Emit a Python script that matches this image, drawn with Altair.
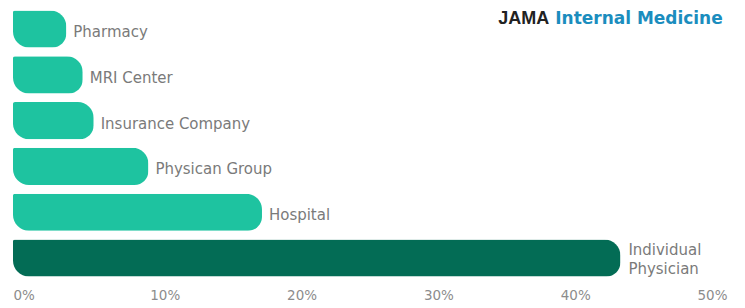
import altair as alt
import pandas as pd

categories = ["Pharmacy", "MRI Center", "Insurance Company", "Physican Group", "Hospital", "Individual\nPhysician"]
values = [3.9, 5.1, 5.9, 9.9, 18.2, 44.4]
groups = ["other", "other", "other", "other", "other", "top"]
x_ticks = [0, 10, 20, 30, 40, 50]

df = pd.DataFrame({"cat": categories, "val": values, "grp": groups})

y_enc = alt.Y("cat:N", sort=categories, axis=None,
              scale=alt.Scale(paddingInner=0.19, paddingOuter=0.05))
x_enc = alt.X("val:Q",
              scale=alt.Scale(domain=[0, 50], nice=False, zero=True),
              axis=alt.Axis(values=x_ticks, labelExpr="datum.value + '%'", title=None,
                            domain=False, ticks=False, grid=False, labelAlign="left",
                            labelPadding=10, labelFontSize=13.5, labelColor="#8c8c8c",
                            labelFont="DejaVu Sans", labelBound=False, labelFlush=False))

bars = alt.Chart(df).mark_bar(
    cornerRadiusTopLeft=2, cornerRadiusBottomLeft=16,
    cornerRadiusTopRight=16, cornerRadiusBottomRight=14
).encode(
    x=x_enc, y=y_enc,
    color=alt.Color("grp:N", scale=alt.Scale(domain=["other", "top"], range=["#1ec3a0", "#036c55"]), legend=None)
)

labels = alt.Chart(df).transform_filter(alt.datum.grp == "other").mark_text(
    align="left", baseline="middle", dx=7, dy=3, fontSize=15, font="DejaVu Sans",
    color="#7a7a7a"
).encode(x=x_enc, y=y_enc, text="cat:N")

labels_top = alt.Chart(df).transform_filter(alt.datum.grp == "top").mark_text(
    align="left", baseline="middle", dx=8, dy=-8, fontSize=15, font="DejaVu Sans",
    color="#7a7a7a", lineBreak="\n", lineHeight=19
).encode(x=x_enc, y=y_enc, text="cat:N")

brand1 = alt.Chart(pd.DataFrame({"t": ["JAMA"]})).mark_text(
    align="right", baseline="top", fontSize=18, font="Liberation Sans", fontWeight="bold", color="#222222"
).encode(x=alt.value(537), y=alt.value(2), text="t:N")
brand2 = alt.Chart(pd.DataFrame({"t": ["Internal Medicine"]})).mark_text(
    align="left", baseline="top", fontSize=17, font="DejaVu Sans", fontWeight="bold", color="#1b8dbe"
).encode(x=alt.value(543), y=alt.value(3), text="t:N")

chart = alt.layer(bars, labels, labels_top, brand1, brand2).properties(
    width=685, height=271, autosize="none", background="white",
    padding={"left": 5, "top": 0, "right": 40, "bottom": 30}
).configure_view(stroke=None)

chart.save("out.html", embed_options={"renderer": "svg", "actions": False})
